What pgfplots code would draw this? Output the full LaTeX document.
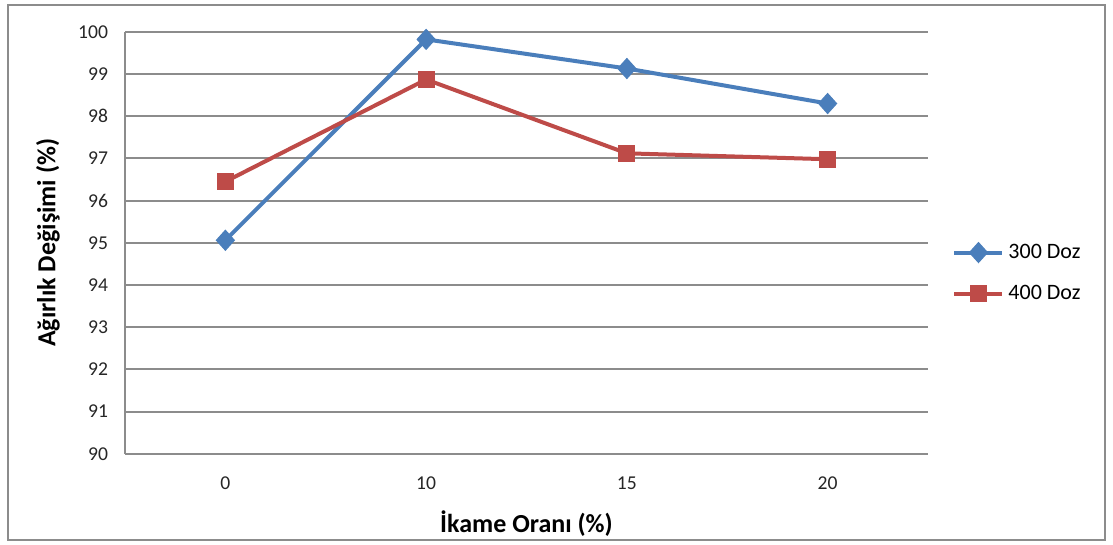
\documentclass[border=0pt]{standalone}
\usepackage{pgfplots}
\pgfplotsset{compat=1.18}
\usepackage{fontspec}
\setmainfont{Carlito}

\definecolor{serA}{HTML}{4A7EBB}
\definecolor{serB}{HTML}{BE4B48}
\definecolor{gridgray}{HTML}{8C8C8C}

\begin{document}
\begin{tikzpicture}
% page extent and chart-area frame
\path[use as bounding box] (0,0) rectangle (556.5pt,272.5pt);
\draw[gridgray, line width=1pt] (4pt,2.5pt) rectangle (552.5pt,270pt);

\begin{axis}[
  at={(62.5pt,45.6pt)}, anchor=south west,
  scale only axis,
  width=401.5pt, height=211pt,
  xmin=-0.5, xmax=3.5,
  ymin=90, ymax=100,
  xtick={0,1,2,3},
  xticklabels={0,10,15,20},
  ytick={90,91,...,100},
  axis x line*=bottom,
  axis y line*=left,
  axis line style={gridgray, line width=1pt, -},
  major tick length=0pt,
  ymajorgrids,
  major grid style={gridgray, line width=1pt},
  /pgf/number format/assume math mode=true,
  tick label style={font=\fontsize{9.8}{11}\selectfont, text=black!85},
  yticklabel shift=5pt,
  xticklabel shift=8pt,
  xlabel={\textbf{İkame Oranı (\%)}},
  ylabel={\textbf{Ağırlık Değişimi (\%)}},
  label style={font=\fontsize{13}{15}\selectfont},
  xlabel style={at={(axis description cs:0.5,-0.166)}, anchor=center},
  ylabel style={at={(axis description cs:-0.096,0.5)}, anchor=center, rotate=0},
  legend style={at={(axis description cs:1.03,0.428)}, anchor=west,
    draw=none, fill=none, font=\fontsize{11}{13}\selectfont,
    row sep=8pt, inner sep=0pt},
  legend cell align=left,
  legend image code/.code={
    \draw[#1, mark repeat=2, mark phase=2] plot coordinates {(0pt,0pt) (12pt,0pt) (24pt,0pt)};
  },
  clip=false,
]
\addplot[serA, line width=2pt, mark=diamond*, mark size=5pt,
  mark options={solid, line width=0.5pt, xscale=1.2}]
  coordinates {(0,95.06) (1,99.82) (2,99.13) (3,98.30)};
\addlegendentry{300 Doz}
\addplot[serB, line width=2pt, mark=square*, mark size=4pt,
  mark options={solid, line width=0.5pt}]
  coordinates {(0,96.45) (1,98.87) (2,97.12) (3,96.98)};
\addlegendentry{400 Doz}
\end{axis}
\end{tikzpicture}
\end{document}
